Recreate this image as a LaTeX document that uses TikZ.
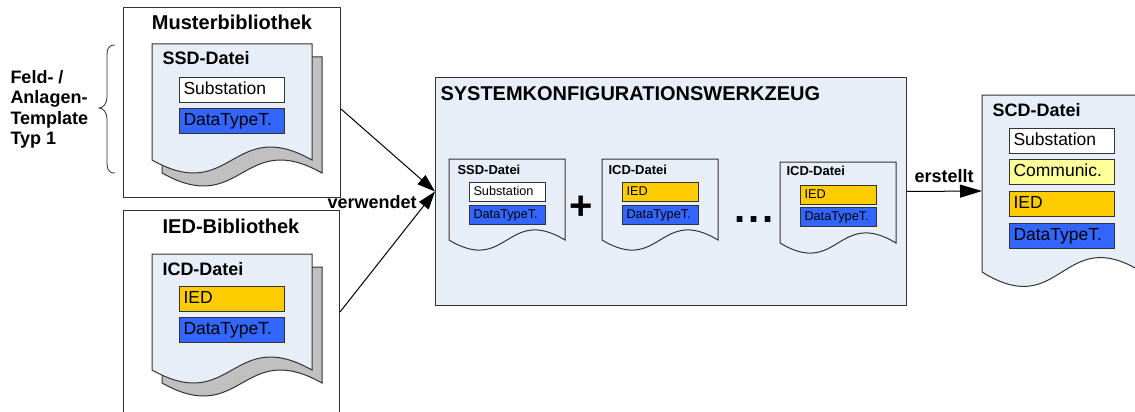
\documentclass[tikz,border=0pt]{standalone}
\usepackage{fontspec}
\setmainfont{Liberation Sans}
\usetikzlibrary{arrows.meta,calc}
\definecolor{docfill}{RGB}{232,238,248}
\definecolor{shadowgray}{RGB}{192,192,192}
\definecolor{dtblue}{RGB}{51,102,255}
\definecolor{iedorange}{RGB}{255,204,0}
\definecolor{commyellow}{RGB}{255,255,153}
\definecolor{edge}{RGB}{51,51,51}

% #1 style, #2 left, #3 top, #4 width, #5 height (left side), #6 wave control
\newcommand\docshape[6]{%
  \pgfmathsetmacro\docR{#2+#4}%
  \pgfmathsetmacro\docB{#3+#5}%
  \pgfmathsetmacro\docM{#2+#4/2}%
  \pgfmathsetmacro\docU{#3+#5-#6}%
  \pgfmathsetmacro\docD{#3+#5+#6}%
  \draw[#1] (#2,#3) -- (\docR,#3) -- (\docR,\docB)
    .. controls (\docM,\docU) and (\docM,\docD) .. (#2,\docB) -- cycle;}

\begin{document}
\begin{tikzpicture}[x=1pt,y=-1pt,line width=1pt,
  libbox/.style={draw=edge, fill=white, inner sep=0pt, anchor=north west},
  docstyle/.style={draw=edge, fill=docfill},
  shadowstyle/.style={draw=edge, fill=shadowgray},
  bigfield/.style={draw=edge, anchor=north west, minimum width=105pt, minimum height=25pt,
    text width=97pt, inner xsep=4pt, inner ysep=0pt, align=left,
    text height=13pt, text depth=4pt, font=\fontsize{17.5}{20}\selectfont},
  smallfield/.style={draw=edge, anchor=north west, minimum width=76pt, minimum height=19pt,
    text width=68pt, inner xsep=4pt, inner ysep=0pt, align=left,
    text height=9.5pt, text depth=2.5pt, font=\fontsize{12.7}{15}\selectfont},
  libtitle/.style={font=\bfseries\fontsize{20}{24}\selectfont, inner sep=0pt, anchor=base},
  doctitle/.style={font=\bfseries\fontsize{18}{22}\selectfont, inner sep=0pt, anchor=base west},
  smalltitle/.style={font=\bfseries\fontsize{13}{16}\selectfont, inner sep=0pt, anchor=base west},
  boldlabel/.style={font=\bfseries\fontsize{18}{20.3}\selectfont, inner sep=0pt},
  arr/.style={-{Triangle[length=18pt,width=12pt]}, line width=1pt},
  arrbig/.style={-{Triangle[length=22pt,width=13pt]}, line width=1pt}
]
\clip (0,0) rectangle (1135,412);
\fill[white] (0,0) rectangle (1135,412);

% libraries
\node[libbox, minimum width=217pt, minimum height=190pt] (mb) at (123,7) {};
\node[libtitle] (mbt) at (232,30) {Musterbibliothek};
\node[libbox, minimum width=216pt, minimum height=230pt] (ib) at (123,210) {};
\node[libtitle] (ibt) at (231,233) {IED-Bibliothek};

% SSD multi-document
\docshape{shadowstyle}{162}{57}{160}{116}{45}
\docshape{docstyle}{152}{44}{160}{116}{45}
\node[doctitle] (ssdt) at (162,65) {SSD-Datei};
\node[bigfield, fill=white] (ssdsub) at (179,77) {Substation};
\node[bigfield, fill=dtblue] (ssddt) at (179,108) {DataTypeT.};

% ICD multi-document
\docshape{shadowstyle}{162}{267}{160}{116}{45}
\docshape{docstyle}{152}{254}{160}{116}{45}
\node[doctitle] (icdt) at (162,275) {ICD-Datei};
\node[bigfield, fill=iedorange] (icdied) at (179,286) {IED};
\node[bigfield, fill=dtblue] (icddt) at (179,317) {DataTypeT.};

% brace and template label
\draw[edge, line width=0.8pt] (115,45) .. controls (107,45) and (107,50) .. (107,60)
  -- (107,96) .. controls (107,104) and (103,108) .. (99,108)
  .. controls (103,108) and (107,112) .. (107,120)
  -- (107,158) .. controls (107,168) and (107,173) .. (115,173);
\node[boldlabel, anchor=north west, align=left] (tpl) at (10,70)
  {Feld- /\\Anlagen-\\Template\\Typ 1};

% system configuration tool
\node[libbox, fill=docfill, minimum width=471pt, minimum height=228pt] (sys) at (435,77) {};
\node[libtitle, anchor=base west] (syst) at (440,100) {SYSTEMKONFIGURATIONSWERKZEUG};

\docshape{docstyle}{449}{159}{116}{81}{35}
\node[smalltitle] (sssdt) at (457,174) {SSD-Datei};
\node[smallfield, fill=white] (sssdsub) at (469,182) {Substation};
\node[smallfield, fill=dtblue] (sssddt) at (469,205) {DataTypeT.};

\node[inner sep=0pt, font=\bfseries\fontsize{40}{44}\selectfont] (plus) at (581.5,207.5) {+};

\docshape{docstyle}{602}{159}{116}{81}{35}
\node[smalltitle] (sicdat) at (608,174) {ICD-Datei};
\node[smallfield, fill=iedorange] (sicdaied) at (622,182) {IED};
\node[smallfield, fill=dtblue] (sicdadt) at (622,205) {DataTypeT.};

\node[inner sep=0pt, anchor=base west, font=\bfseries\fontsize{40}{44}\selectfont] (dots) at (734,222) {.\kern3pt.\kern3pt.};

\docshape{docstyle}{780}{162}{116}{81}{35}
\node[smalltitle] (sicdbt) at (786,175) {ICD-Datei};
\node[smallfield, fill=iedorange] (sicdbied) at (800,185) {IED};
\node[smallfield, fill=dtblue] (sicdbdt) at (800,207) {DataTypeT.};

% SCD document
\docshape{docstyle}{982}{95}{160}{177}{50}
\node[doctitle] (scdt) at (992,116) {SCD-Datei};
\node[bigfield, fill=white] (scdsub) at (1009,128) {Substation};
\node[bigfield, fill=commyellow] (scdcom) at (1009,159) {Communic.};
\node[bigfield, fill=iedorange] (scdied) at (1009,191) {IED};
\node[bigfield, fill=dtblue] (scddt) at (1009,223) {DataTypeT.};

% connectors
\coordinate (scdin) at (982,191);
\draw[arr] ($(mb.north east)+(0,102)$) -- (sys.west);
\draw[arr] ($(ib.north east)+(0,102)$) -- (sys.west);
\node[boldlabel, anchor=base west] (verw) at (327,208) {verwendet};
\draw[arrbig] (sys.east) -- (scdin);
\node[boldlabel, anchor=base west] (erst) at (914,182) {erstellt};
\end{tikzpicture}
\end{document}
